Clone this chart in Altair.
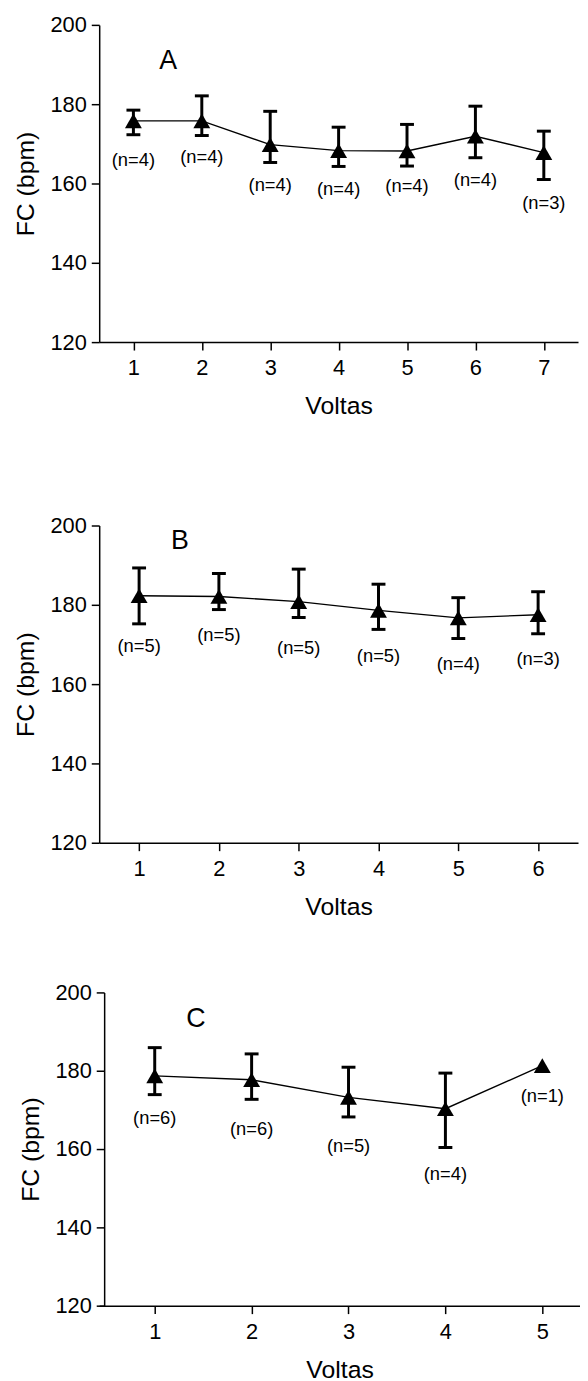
import altair as alt
import pandas as pd

FONT = "Liberation Sans"

# ---- Panel A ----
a_voltas = [1, 2, 3, 4, 5, 6, 7]
a_mean = [175.8, 175.8, 169.8, 168.3, 168.2, 171.9, 167.8]
a_lo = [172.3, 172.1, 165.3, 164.3, 164.4, 166.5, 161.0]
a_hi = [178.5, 182.1, 178.2, 174.2, 174.9, 179.5, 173.2]
a_n = ["(n=4)", "(n=4)", "(n=4)", "(n=4)", "(n=4)", "(n=4)", "(n=3)"]
a_label_y = [166.0, 166.7, 159.6, 158.5, 159.3, 160.8, 155.0]

# ---- Panel B ----
b_voltas = [1, 2, 3, 4, 5, 6]
b_mean = [182.3, 182.1, 180.8, 178.6, 176.7, 177.5]
b_lo = [175.2, 178.8, 176.8, 173.8, 171.5, 172.7]
b_hi = [189.3, 187.9, 189.0, 185.2, 181.8, 183.3]
b_n = ["(n=5)", "(n=5)", "(n=5)", "(n=5)", "(n=4)", "(n=3)"]
b_label_y = [169.6, 172.3, 169.2, 167.1, 165.0, 166.3]

# ---- Panel C ----
c_voltas = [1, 2, 3, 4, 5]
c_mean = [178.7, 177.7, 173.2, 170.3, 181.3]
c_lo = [173.9, 172.7, 168.2, 160.4, None]
c_hi = [185.9, 184.3, 180.9, 179.4, None]
c_n = ["(n=6)", "(n=6)", "(n=5)", "(n=4)", "(n=1)"]
c_label_y = [167.8, 165.1, 160.8, 153.5, 173.5]

letters = ["A", "B", "C"]
letter_x = [1.51, 1.51, 1.425]
letter_y = [191.0, 196.2, 193.1]

y_ticks = [120, 140, 160, 180, 200]


def panel(vx, mean, lo, hi, n, label_y, idx, domain, width, height,
          yoffset=0, title=None):
    df = pd.DataFrame({"v": vx, "m": mean, "lo": lo, "hi": hi, "n": n, "ly": label_y})
    ldf = pd.DataFrame({"lx": [letter_x[idx]], "lyy": [letter_y[idx]], "t": [letters[idx]]})
    xs = alt.Scale(domain=domain, nice=False, zero=False)
    ys = alt.Scale(domain=[120, 200], nice=False, zero=False)
    xax = alt.Axis(values=vx, format="d", title="Voltas")
    yax = alt.Axis(values=y_ticks, format="d", title="FC (bpm)", offset=yoffset)

    def X(f):
        return alt.X(f, type="quantitative", scale=xs, axis=xax)

    def Y(f):
        return alt.Y(f, type="quantitative", scale=ys, axis=yax)

    base = alt.Chart(df)
    err = base.transform_filter("isValid(datum.lo)")
    line = base.mark_line(color="black", strokeWidth=1.4).encode(x=X("v"), y=Y("m"))
    bars = err.mark_rule(color="black", strokeWidth=3, opacity=1).encode(
        x=X("v"), y=Y("lo"), y2="hi")
    cap_lo = err.mark_tick(color="black", orient="horizontal", size=14,
                           thickness=3, opacity=1).encode(x=X("v"), y=Y("lo"))
    cap_hi = err.mark_tick(color="black", orient="horizontal", size=14,
                           thickness=3, opacity=1).encode(x=X("v"), y=Y("hi"))
    pts = base.mark_point(shape="triangle-up", filled=True, size=290,
                          color="black", opacity=1).encode(x=X("v"), y=Y("m"))
    txt = base.mark_text(font=FONT, fontSize=18.5, color="black").encode(
        x=X("v"), y=Y("ly"), text="n:N")
    let = alt.Chart(ldf).mark_text(font=FONT, fontSize=27, color="black").encode(
        x=X("lx"), y=Y("lyy"), text="t:N")
    props = dict(width=width, height=height)
    if title is not None:
        props["title"] = title
    return alt.layer(line, bars, cap_lo, cap_hi, pts, txt, let).properties(**props)


A = panel(a_voltas, a_mean, a_lo, a_hi, a_n, a_label_y, 0, [0.5, 7.5], 483, 320)
B = panel(b_voltas, b_mean, b_lo, b_hi, b_n, b_label_y, 1, [0.5, 6.5], 483, 320,
          title=alt.TitleParams(" ", fontSize=2, offset=32))
C = panel(c_voltas, c_mean, c_lo, c_hi, c_n, c_label_y, 2, [0.427, 5.389], 485, 316,
          yoffset=-5)

chart = alt.vconcat(A, B, C, spacing=63).properties(
    padding={"left": 5, "top": 0, "right": 0, "bottom": 0}
).configure_view(stroke=None).configure_axis(
    grid=False, domainColor="black", domainWidth=1.5, tickColor="black",
    tickWidth=1.5, tickSize=8, labelFont=FONT, labelFontSize=22,
    labelColor="black", titleFont=FONT, titleFontSize=25,
    titleFontWeight="normal", titleColor="black"
).configure_axisX(labelPadding=8, titlePadding=15).configure_axisY(
    labelPadding=5, titlePadding=12)

chart.save("out.html", embed_options={"renderer": "svg", "actions": False})
